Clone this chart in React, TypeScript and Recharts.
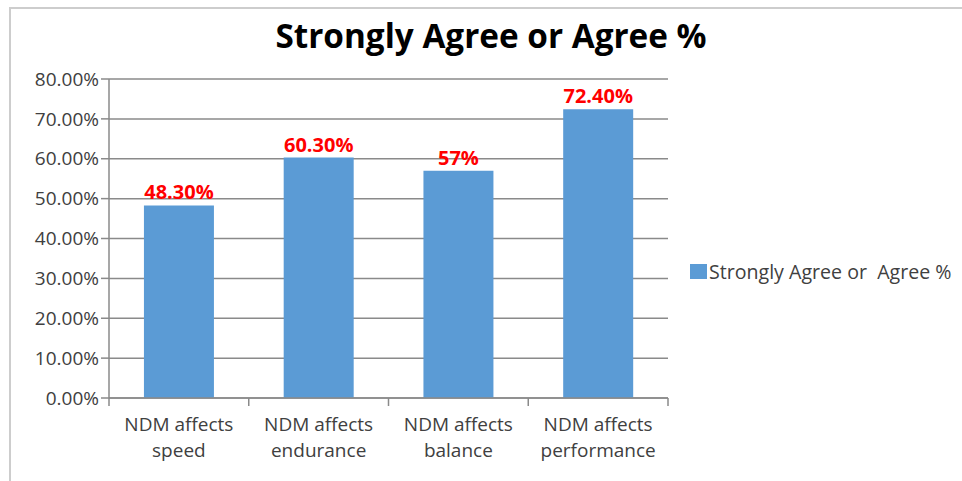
import React from 'react';
import { BarChart, Bar, XAxis, YAxis, CartesianGrid, Legend, LabelList } from 'recharts';

const categories = ['NDM affects speed', 'NDM affects endurance', 'NDM affects balance', 'NDM affects performance'];
const agreeValues = [0.483, 0.603, 0.57, 0.724];
const agreeLabels = ['48.30%', '60.30%', '57%', '72.40%'];
const yTicks = [0, 0.1, 0.2, 0.3, 0.4, 0.5, 0.6, 0.7, 0.8];

const SERIES = 'Strongly Agree or  Agree %';
const BLUE = '#5B9BD5';
const GRID = '#8a8a8a';
const TEXT = '#404040';
const FONT = '"Open Sans", sans-serif';

const data = categories.map((name, i) => ({ name, value: agreeValues[i], label: agreeLabels[i] }));

function CategoryTick(props: any) {
  const { x, y, payload, index } = props;
  const half = payload.offset ?? 0;
  const [first, ...rest] = String(payload.value).split(' ');
  const line1 = first + ' ' + rest[0];
  const line2 = rest.slice(1).join(' ');
  return (
    <g>
      <line x1={x - half} x2={x - half} y1={y} y2={y + 8} stroke={GRID} strokeWidth={1.5} />
      {index === categories.length - 1 && (
        <line x1={x + half} x2={x + half} y1={y} y2={y + 8} stroke={GRID} strokeWidth={1.5} />
      )}
      <text x={x} y={y + 33} textAnchor="middle" fill={TEXT} fontSize={19} fontFamily={FONT}>
        {line1}
      </text>
      <text x={x} y={y + 59} textAnchor="middle" fill={TEXT} fontSize={19} fontFamily={FONT}>
        {line2}
      </text>
    </g>
  );
}

function LegendContent() {
  return (
    <div style={{ display: 'flex', alignItems: 'center', fontFamily: FONT, fontSize: 19.6, color: TEXT, whiteSpace: 'pre' }}>
      <span style={{ display: 'inline-block', width: 17, height: 15, background: BLUE, marginRight: 2 }} />
      <span>{SERIES}</span>
    </div>
  );
}

export default function App() {
  return (
    <div style={{ position: 'absolute', left: 0, top: 0, width: 962, height: 481, background: '#fff', overflow: 'hidden' }}>
      <div
        style={{
          position: 'absolute', left: 9, top: 7, width: 960, height: 480,
          borderTop: '2px solid #cdcdcd', borderLeft: '2px solid #cdcdcd',
        }}
      />
      <div
        style={{
          position: 'absolute', left: 0, top: 15, width: 982, textAlign: 'center',
          fontFamily: FONT, fontWeight: 700, fontSize: 33.3, lineHeight: '40px', color: '#000',
        }}
      >
        Strongly Agree or Agree %
      </div>
      <BarChart
        width={962}
        height={481}
        data={data}
        margin={{ top: 79, right: 294, bottom: 23, left: 0 }}
        barCategoryGap="25%"
        style={{ position: 'absolute', left: 0, top: 0 }}
      >
        <CartesianGrid vertical={false} stroke={GRID} strokeWidth={1.5} />
        <XAxis
          dataKey="name"
          height={60}
          tickSize={0}
          tickMargin={0}
          tickLine={false}
          axisLine={{ stroke: GRID, strokeWidth: 1.5 }}
          tick={<CategoryTick />}
          interval={0}
        />
        <YAxis
          width={109}
          domain={[0, 0.8]}
          ticks={yTicks}
          tickSize={8}
          tickMargin={2}
          tickLine={{ stroke: GRID, strokeWidth: 1.5 }}
          axisLine={{ stroke: GRID, strokeWidth: 1.5 }}
          tick={{ fill: TEXT, fontSize: 19, fontFamily: FONT }}
          tickFormatter={(v: number) => (v * 100).toFixed(2) + '%'}
          interval={0}
        />
        <YAxis
          yAxisId="right"
          orientation="right"
          width={0}
          domain={[0, 0.8]}
          tick={false}
          tickLine={false}
          axisLine={{ stroke: '#c4c4c4', strokeWidth: 1.5 }}
        />
        <Legend
          layout="vertical"
          align="center"
          verticalAlign="middle"
          content={<LegendContent />}
          wrapperStyle={{ left: 690, top: 258, width: 270 }}
        />
        <Bar dataKey="value" name={SERIES} fill={BLUE} isAnimationActive={false}>
          <LabelList
            dataKey="label"
            position="top"
            offset={6}
            fill="#ff0000"
            fontSize={20}
            fontWeight={700}
            fontFamily={FONT}
          />
        </Bar>
      </BarChart>
    </div>
  );
}
